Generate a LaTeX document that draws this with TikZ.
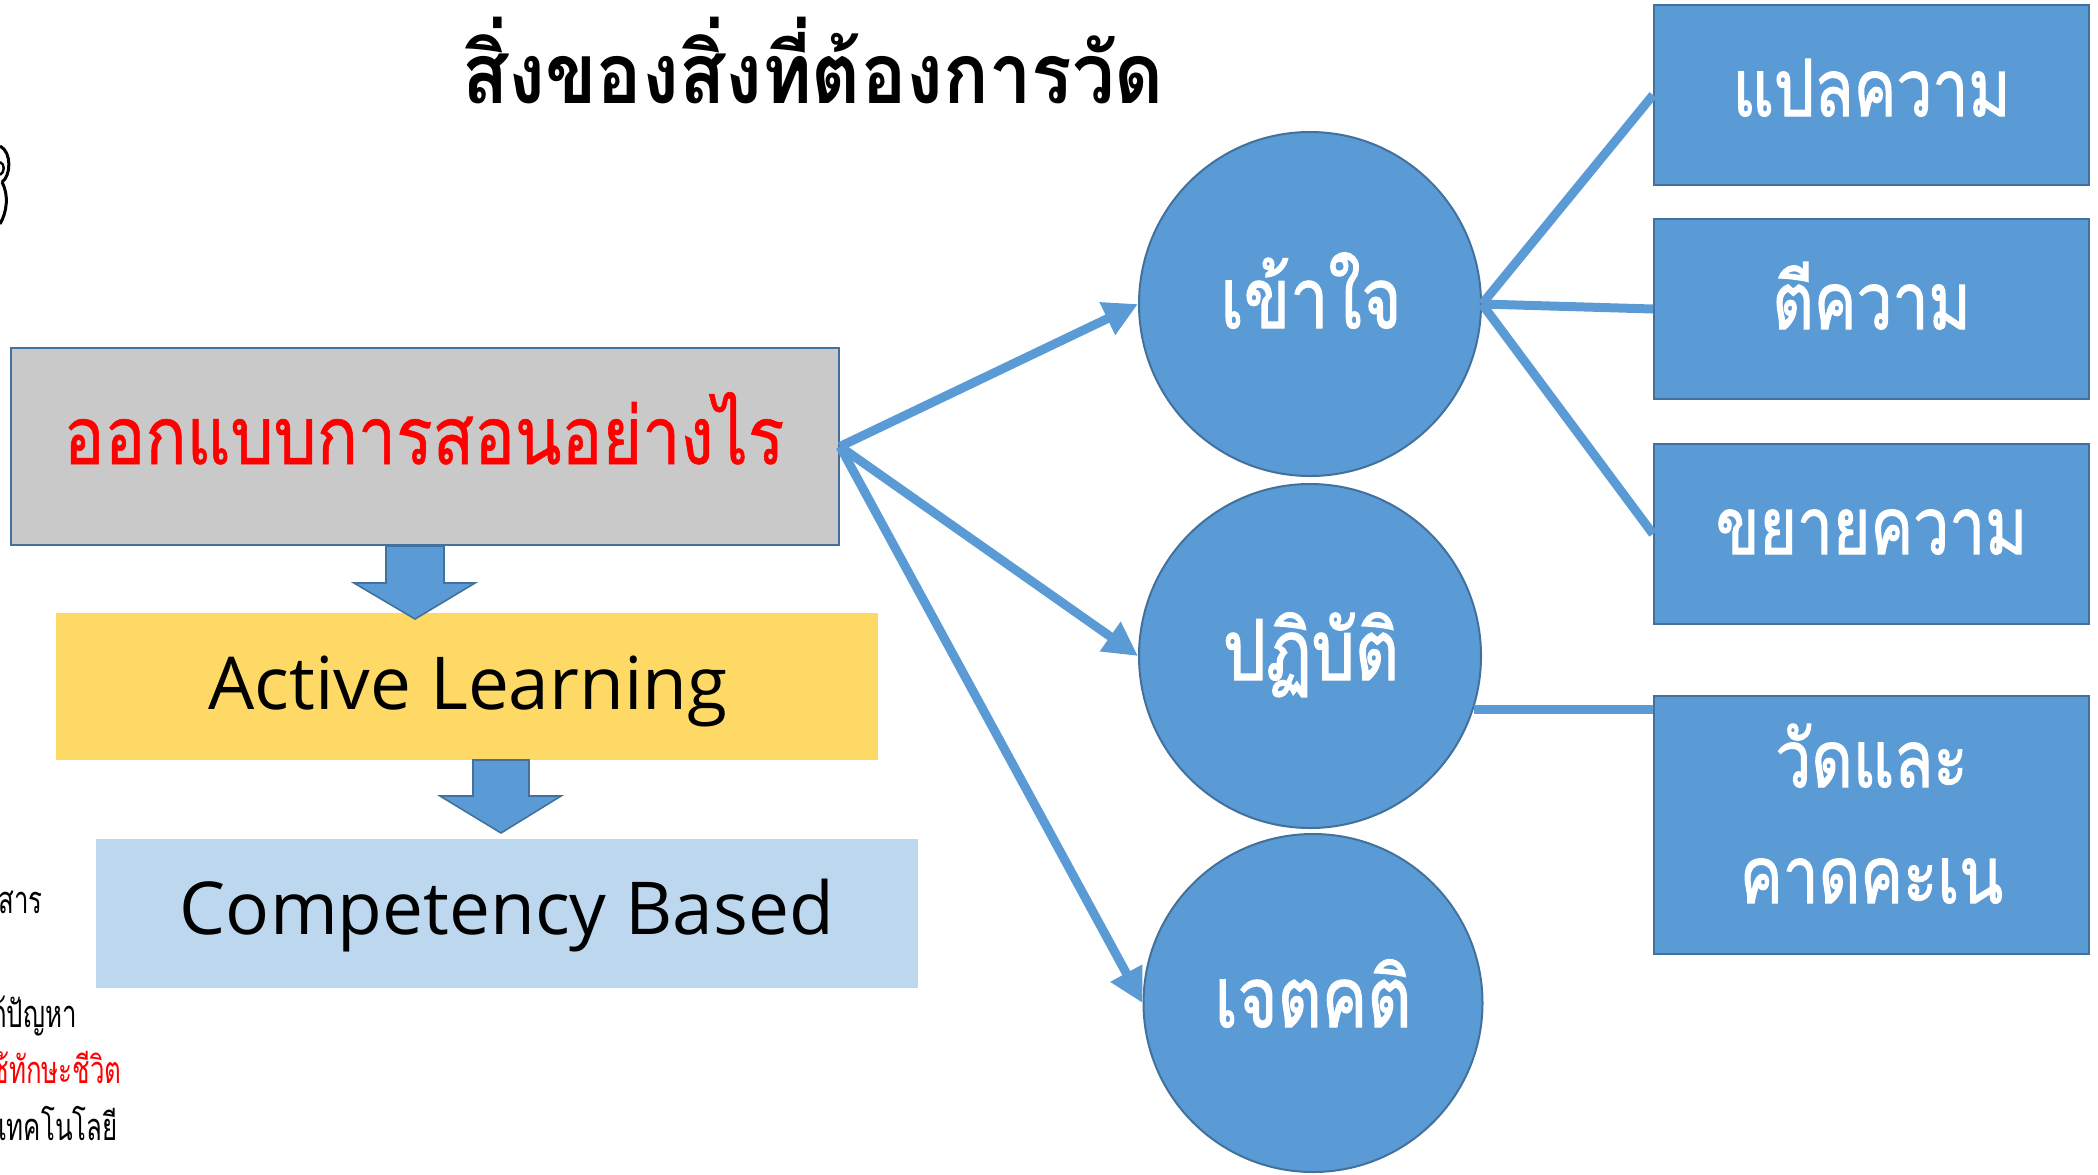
\documentclass[tikz,border=0pt]{standalone}
\usepackage{fontspec}
\newfontfamily\thai[Script=Thai]{Loma}
\newfontfamily\thaisemi[Script=Thai,FakeBold=1.6]{Loma}
\newfontfamily\thaimid[Script=Thai,FakeBold=0.8]{Loma}
\newfontfamily\latin{Open Sans}
\usetikzlibrary{arrows.meta,shapes.geometric}
\definecolor{cblue}{HTML}{5B9BD5}
\definecolor{cedge}{HTML}{41719C}
\definecolor{cgray}{HTML}{C9C9C9}
\definecolor{cyellow}{HTML}{FFD966}
\definecolor{clight}{HTML}{BDD7EE}
\definecolor{cred}{HTML}{FF0000}
\newcommand{\thaitext}[3]{\scalebox{#1}[1]{\thai\fontsize{#2}{#2}\selectfont #3}}
\newcommand{\thaisemitext}[3]{\scalebox{#1}[1]{\thaisemi\fontsize{#2}{#2}\selectfont #3}}
\newcommand{\thaimidtext}[3]{\scalebox{#1}[1]{\thaimid\fontsize{#2}{#2}\selectfont #3}}
\tikzset{
  box/.style={draw=cedge, line width=1pt, fill=cblue, rectangle, inner sep=0pt},
  circ/.style={draw=cedge, line width=1pt, fill=cblue, ellipse, inner sep=0pt},
  wtext/.style={text=white, inner sep=0pt, anchor=base},
  conn/.style={draw=cblue, line width=4.5pt},
  arr/.style={conn, -{Triangle[length=17pt,width=17pt]}},
  blockarrow/.style={draw=cedge, line width=0.8pt, fill=cblue},
}
\begin{document}
\begin{tikzpicture}[x=0.5pt,y=-0.5pt]
\useasboundingbox (0,0) rectangle (2098,1174);
% title
\node[anchor=base, inner sep=0pt] (title) at (813,103) {\scalebox{0.9}[1]{\thai\bfseries\fontsize{42pt}{46pt}\selectfont สิ่งของสิ่งที่ต้องการวัด}};
% left boxes
\node[rectangle, draw=cedge, line width=1pt, fill=cgray, minimum width=414pt, minimum height=98.5pt] (design) at (425,446.5) {};
\node[anchor=base, inner sep=0pt, text=cred] (designt) at (424,464) {\thaimidtext{0.85}{40pt}{ออกแบบการสอนอย่างไร}};
\node[rectangle, fill=cyellow, minimum width=411pt, minimum height=73.5pt] (active) at (467,686.5) {};
\node[anchor=base, inner sep=0pt] (activet) at (468,709) {\latin\fontsize{36.5pt}{42pt}\selectfont Active Learning};
\node[rectangle, fill=clight, minimum width=411pt, minimum height=74.5pt] (comp) at (507,913.5) {};
\node[anchor=base, inner sep=0pt] (compt) at (507,934) {\latin\fontsize{36.5pt}{42pt}\selectfont Competency Based};
% block arrows
\draw[blockarrow] (386,546) -- (444,546) -- (444,583) -- (475,583) -- (415,619) -- (354,583) -- (386,583) -- cycle;
\draw[blockarrow] (473,760) -- (529,760) -- (529,796) -- (561,796) -- (501,833) -- (440,796) -- (473,796) -- cycle;
% circles
\node[circ, minimum width=171pt, minimum height=172pt] (kao) at (1310,304) {};
\node[wtext] (kaot) at (1311,328) {\thaisemitext{0.81}{42pt}{เข้าใจ}};
\node[circ, minimum width=171pt, minimum height=172pt] (pati) at (1310,656) {};
\node[wtext] (patit) at (1311,680) {\thaisemitext{0.81}{42pt}{ปฏิบัติ}};
\node[circ, minimum width=169.5pt, minimum height=169pt] (jet) at (1313,1003) {};
\node[wtext] (jett) at (1313,1027) {\thaisemitext{0.81}{42pt}{เจตคติ}};
% right boxes
\node[box, minimum width=217.5pt, minimum height=90pt] (b1) at (1871.5,95) {};
\node[wtext] (b1t) at (1871.5,116) {\thaisemitext{0.81}{39.5pt}{แปลความ}};
\node[box, minimum width=217.5pt, minimum height=90pt] (b2) at (1871.5,309) {};
\node[wtext] (b2t) at (1871.5,329) {\thaisemitext{0.81}{39.5pt}{ตีความ}};
\node[box, minimum width=217.5pt, minimum height=90pt] (b3) at (1871.5,534) {};
\node[wtext] (b3t) at (1871.5,554) {\thaisemitext{0.81}{39.5pt}{ขยายความ}};
\node[box, minimum width=217.5pt, minimum height=129pt] (b4) at (1871.5,825) {};
\node[wtext] (b4a) at (1871.5,787) {\thaisemitext{0.81}{39.5pt}{วัดและ}};
\node[wtext] (b4b) at (1871.5,903) {\thaisemitext{0.81}{39.5pt}{คาดคะเน}};
% connectors
\draw[arr] (design.east) -- (kao.west);
\draw[arr] (design.east) -- (pati.west);
\draw[arr] (design.east) -- (jet.west);
\draw[conn] (kao.east) -- (b1.west);
\draw[conn] (kao.east) -- (b2.west);
\draw[conn] (kao.east) -- (b3.west);
\draw[conn] (pati.-18) -- (pati.-18 -| b4.west);
% clipped fragments at the left edge
\begin{scope}
\clip (0,0) rectangle (2098,1174);
\node[anchor=base east, inner sep=0pt] (l1) at (43,913) {\thaitext{0.68}{19pt}{การสื่อสาร}};
\node[anchor=base east, inner sep=0pt] (l2) at (77,1027) {\thaitext{0.68}{19pt}{การแก้ปัญหา}};
\node[anchor=base east, inner sep=0pt, text=cred] (l3) at (122,1083) {\thaitext{0.68}{19pt}{การใช้ทักษะชีวิต}};
\node[anchor=base east, inner sep=0pt] (l4) at (118,1140) {\thaitext{0.68}{19pt}{การใช้เทคโนโลยี}};
\draw[line width=1.5pt] (0,146) .. controls (12,152) and (11,176) .. (2,182);
\draw[line width=1.5pt] (2,182) .. controls (9,195) and (7,212) .. (0,224);
\draw[line width=1.2pt] (0,162) .. controls (5,164) and (5,172) .. (0,175);
\end{scope}
\end{tikzpicture}
\end{document}
